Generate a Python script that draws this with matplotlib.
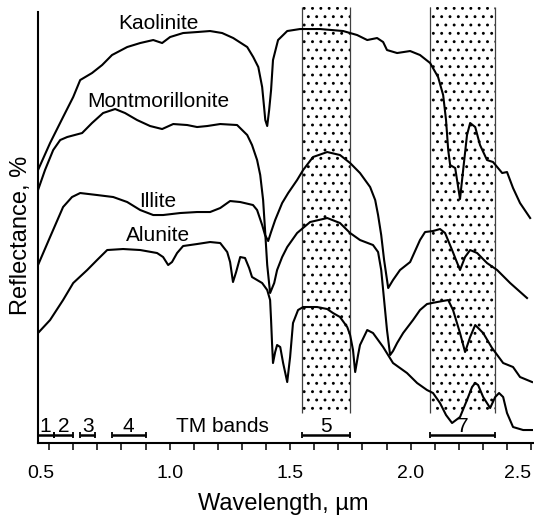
import matplotlib.pyplot as plt
from matplotlib.patches import Rectangle
from matplotlib.ticker import MultipleLocator
from matplotlib.transforms import ScaledTranslation

plt.rcParams['font.family'] = ['Liberation Sans', 'DejaVu Sans']
plt.rcParams['hatch.linewidth'] = 0.9

# Reflectance spectra (wavelength in um, reflectance in offset relative units)
kaolinite_wl = [0.454, 0.504, 0.558, 0.600, 0.629, 0.678, 0.720, 0.761, 0.824, 0.878,
                0.932, 0.969, 1.002, 1.056, 1.114, 1.168, 1.218, 1.264, 1.322, 1.347,
                1.368, 1.384, 1.392, 1.397, 1.405, 1.413, 1.421, 1.429, 1.450, 1.488,
                1.541, 1.624, 1.720, 1.778, 1.820, 1.861, 1.886, 1.902, 1.944, 1.998,
                2.039, 2.081, 2.114, 2.135, 2.147, 2.156, 2.164, 2.185, 2.205, 2.218,
                2.234, 2.247, 2.268, 2.288, 2.317, 2.342, 2.380, 2.400, 2.425, 2.454,
                2.496]
kaolinite_r = [273, 300, 326, 346, 363, 370, 378, 388, 396, 400,
               403, 400, 406, 410, 411, 412, 410, 405, 396, 386,
               376, 356, 336, 323, 317, 333, 353, 383, 403, 412,
               414, 414, 412, 408, 403, 405, 401, 393, 390, 392,
               388, 380, 366, 348, 323, 293, 278, 275, 244, 273,
               308, 320, 316, 298, 283, 281, 270, 271, 255, 240,
               225]

montmorillonite_wl = [0.454, 0.483, 0.517, 0.546, 0.575, 0.637, 0.678, 0.724, 0.774, 0.815,
                      0.865, 0.919, 0.969, 1.015, 1.073, 1.114, 1.156, 1.210, 1.280, 1.322,
                      1.342, 1.363, 1.376, 1.388, 1.396, 1.405, 1.417, 1.434, 1.446, 1.467,
                      1.488, 1.529, 1.583, 1.654, 1.707, 1.749, 1.790, 1.844, 1.865, 1.878,
                      1.890, 1.902, 1.915, 1.927, 1.944, 1.969, 2.010, 2.039, 2.068, 2.110,
                      2.156, 2.176, 2.205, 2.226, 2.247, 2.268, 2.301, 2.338, 2.384, 2.425,
                      2.454, 2.504]
montmorillonite_r = [253, 273, 293, 303, 306, 310, 320, 330, 334, 330,
                     323, 317, 314, 319, 318, 316, 317, 319, 318, 308,
                     298, 283, 268, 243, 213, 178, 150, 160, 173, 186,
                     196, 210, 221, 225, 220, 210, 203, 198, 191, 173,
                     143, 113, 88, 92, 100, 110, 123, 133, 139, 141,
                     143, 133, 110, 91, 106, 118, 110, 95, 80, 76,
                     66, 61]

illite_wl = [0.454, 0.504, 0.558, 0.595, 0.629, 0.699, 0.766, 0.824, 0.878, 0.932,
             0.973, 1.044, 1.114, 1.168, 1.210, 1.251, 1.293, 1.346, 1.363, 1.384,
             1.396, 1.409, 1.421, 1.438, 1.467, 1.492, 1.529, 1.554, 1.595, 1.654,
             1.707, 1.749, 1.790, 1.832, 1.853, 1.865, 1.878, 1.890, 1.907, 1.927,
             1.956, 1.998, 2.039, 2.060, 2.093, 2.122, 2.143, 2.172, 2.205, 2.226,
             2.247, 2.276, 2.317, 2.359, 2.413, 2.483]
illite_r = [178, 206, 236, 246, 250, 248, 246, 241, 233, 228,
            228, 230, 231, 231, 235, 242, 241, 238, 233, 218,
            208, 202, 211, 223, 240, 250, 263, 273, 286, 291,
            288, 280, 270, 256, 243, 228, 208, 183, 155, 163,
            173, 181, 203, 211, 212, 214, 210, 193, 173, 186,
            193, 190, 180, 173, 160, 145]

alunite_wl = [0.454, 0.504, 0.558, 0.600, 0.658, 0.699, 0.741, 0.807, 0.878, 0.948,
              0.973, 0.994, 1.010, 1.031, 1.056, 1.114, 1.168, 1.210, 1.239, 1.251,
              1.263, 1.276, 1.293, 1.313, 1.330, 1.342, 1.363, 1.384, 1.405, 1.417,
              1.421, 1.425, 1.429, 1.438, 1.446, 1.459, 1.471, 1.488, 1.500, 1.512,
              1.533, 1.554, 1.612, 1.654, 1.678, 1.707, 1.737, 1.749, 1.761, 1.770,
              1.782, 1.790, 1.820, 1.844, 1.886, 1.927, 1.985, 2.027, 2.068, 2.093,
              2.122, 2.147, 2.172, 2.205, 2.234, 2.255, 2.268, 2.280, 2.301, 2.330,
              2.351, 2.367, 2.384, 2.400, 2.425, 2.467, 2.504]
alunite_r = [110, 123, 143, 160, 173, 183, 193, 194, 193, 190,
             186, 178, 181, 190, 197, 199, 201, 200, 191, 181,
             161, 171, 186, 185, 175, 166, 163, 160, 153, 143,
             123, 100, 80, 91, 98, 96, 80, 61, 86, 120,
             133, 136, 136, 134, 130, 126, 116, 108, 93, 71,
             88, 98, 113, 110, 96, 80, 70, 60, 53, 50,
             40, 28, 20, 26, 43, 56, 60, 58, 46, 35,
             46, 50, 46, 30, 16, 13, 13]

minerals = ['Kaolinite', 'Montmorillonite', 'Illite', 'Alunite']
label_r = [414, 336, 236, 202]

# Landsat TM bands, um
tm_bands = ['1', '2', '3', '4', '5', '7']
tm_lo = [0.45, 0.52, 0.63, 0.76, 1.55, 2.08]
tm_hi = [0.52, 0.60, 0.69, 0.90, 1.75, 2.35]
stippled = ['5', '7']

wl_ticks = [0.5, 1.0, 1.5, 2.0, 2.5]

fig = plt.figure(figsize=(5.34, 5.17), dpi=100)
ax = fig.add_axes([0.0712, 0.1431, 0.927, 0.8433])

# stippled TM 5 and 7 windows
for name, lo, hi in zip(tm_bands, tm_lo, tm_hi):
    if name in stippled:
        ax.add_patch(Rectangle((lo, 30), hi - lo, 406, facecolor='none',
                               edgecolor='black', linewidth=0, hatch='..', zorder=1))
        ax.vlines([lo, hi], 30, 436, color='0.25', linewidth=0.9, zorder=1)

spectra = [(kaolinite_wl, kaolinite_r), (montmorillonite_wl, montmorillonite_r),
           (illite_wl, illite_r), (alunite_wl, alunite_r)]
for (wl, r) in spectra:
    ax.plot(wl, r, color='black', linewidth=1.5, solid_joinstyle='round', zorder=3)

for name, y in zip(minerals, label_r):
    ax.text(0.952, y, name, ha='center', va='baseline', fontsize=15, zorder=4)

# TM band bars along the bottom
bar_y = 8
for name, lo, hi in zip(tm_bands, tm_lo, tm_hi):
    ax.hlines(bar_y, lo, hi, color='black', linewidth=1.8)
    ax.vlines([lo, hi], bar_y - 3, bar_y + 3, color='black', linewidth=1.3)
    ax.text((lo + hi) / 2, bar_y + 3.5, name, ha='center', va='baseline', fontsize=15)
ax.text(1.218, bar_y + 3.5, 'TM bands', ha='center', va='baseline', fontsize=15)

ax.set_xlim(0.454, 2.508)
ax.set_ylim(0, 436)
ax.spines['top'].set_visible(False)
ax.spines['right'].set_visible(False)
ax.spines['left'].set_bounds(0, 431)
for side in ['left', 'bottom']:
    ax.spines[side].set_linewidth(1.5)
ax.set_yticks([])
ax.set_xticks(wl_ticks, [f'{v:.1f}' for v in wl_ticks])
ax.xaxis.set_minor_locator(MultipleLocator(0.1))
ax.tick_params(axis='x', which='both', direction='out', length=5, width=1.1)
ax.tick_params(axis='x', which='major', labelsize=14, pad=10.5)

# pull the end labels inward so they stay inside the frame
labels = ax.get_xticklabels()
labels[0].set_transform(labels[0].get_transform()
                        + ScaledTranslation(-8 / 100, 0, fig.dpi_scale_trans))
labels[-1].set_horizontalalignment('right')

ax.set_xlabel('Wavelength, µm', fontsize=17)
ax.set_ylabel('Reflectance, %', fontsize=17)
ax.xaxis.set_label_coords(0.495, -0.114)
ax.yaxis.set_label_coords(-0.012, 0.477)

fig.savefig('out.png', dpi=100)
